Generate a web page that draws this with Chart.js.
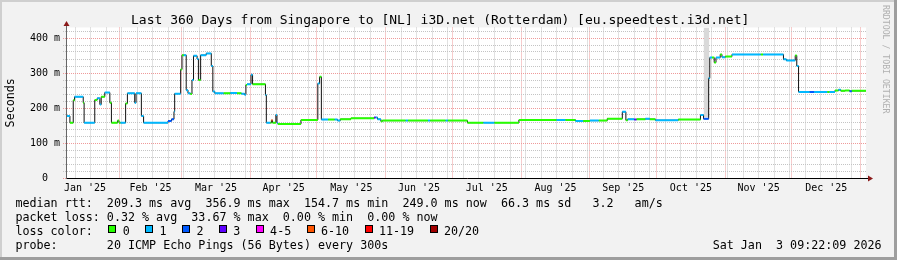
<!DOCTYPE html>
<html><head><meta charset="utf-8">
<script src="https://cdn.jsdelivr.net/npm/chart.js@4.4.1/dist/chart.umd.min.js"></script>
<style>
html,body{margin:0;padding:0;background:#f2f2f2;}
#wrap{position:relative;width:897px;height:260px;overflow:hidden;}
canvas{position:absolute;left:0;top:0;}
.t{position:absolute;font-family:"DejaVu Sans Mono",monospace;white-space:pre;color:#000;line-height:1;}
.box{position:absolute;width:8px;height:8px;box-sizing:border-box;border:1px solid #000;}
</style></head>
<body><div id="wrap">
<canvas id="c" width="897" height="260"></canvas>
<div class="t" style="left:131px;top:13.3px;font-size:13px">Last 360 Days from Singapore to [NL] i3D.net (Rotterdam) [eu.speedtest.i3d.net]</div>
<div class="t" style="left:15.4px;top:198.1px;font-size:11.7px">median rtt:  209.3 ms avg  356.9 ms max  154.7 ms min  249.0 ms now  66.3 ms sd   3.2   am/s</div>
<div class="t" style="left:15.4px;top:212.1px;font-size:11.7px">packet loss: 0.32 % avg  33.67 % max  0.00 % min  0.00 % now</div>
<div class="t" style="left:15.4px;top:226.1px;font-size:11.7px">loss color:</div>
<div class="t" style="left:15.4px;top:240.1px;font-size:11.7px">probe:       20 ICMP Echo Pings (56 Bytes) every 300s</div>
<div class="t" style="left:712.7px;top:240.1px;font-size:11.7px">Sat Jan  3 09:22:09 2026</div>
<div class="t" style="left:881px;top:5px;font-size:8.2px;line-height:10px;writing-mode:vertical-rl;color:#b0b0b0">RRDTOOL / TOBI OETIKER</div>
<div id="lossLegend"></div>
</div>
<script>
// ---- data ----
const lossColors = ['#26ff00','#00b8ff','#0059ff','#5e00ff','#ff00fe','#ff5500','#ff0000','#a10000'];
const lossLabels = ['0','1','2','3','4-5','6-10','11-19','20/20'];
const monthLabels = ["Jan '25","Feb '25","Mar '25","Apr '25","May '25","Jun '25","Jul '25","Aug '25","Sep '25","Oct '25","Nov '25","Dec '25"];
const monthStarts = [0,31,59,90,120,151,181,212,243,273,304,334,365]; // days since 2025-01-01
const yTickValues = [0,20,40,60,80,100,120,140,160,180,200,220,240,260,280,300,320,340,360,380,400,420];
const xMin = 7.39, xMax = 367.39, yMax = 430;
// median rtt steps: start day, value (ms), loss-colour index
const segStart = [7.4,8.7,10.2,10.8,14.7,15.1,19.9,21.0,22.2,22.8,24.4,26.7,27.4,30.2,30.8,31.5,33.8,34.6,37.9,38.5,
 40.9,41.9,52.9,54.5,55.6,55.9,58.6,59.2,60.0,61.1,61.9,63.0,63.7,64.4,66.0,66.6,67.6,70.1,72.4,73.1,
 74.0,78.0,81.0,84.0,86.0,87.4,88.0,88.5,90.3,91.0,96.8,97.2,99.0,99.5,100.0,101.5,102.0,102.4,112.8,120.4,
 121.2,122.0,125.0,128.0,129.3,130.5,135.3,145.8,146.5,147.3,148.8,149.5,160.0,161.0,170.0,171.0,178.0,179.0,187.8,189.0,
 195.0,200.0,211.0,228.0,232.0,236.5,240.0,243.0,247.0,250.8,257.6,259.2,260.0,263.0,264.0,268.0,270.0,272.5,282.8,292.8,
 294.2,296.5,297.0,298.0,299.0,299.8,301.7,302.5,304.0,307.0,320.0,321.0,330.2,331.5,335.5,336.2,337.0,342.0,344.0,350.0,
 351.0,353.4,355.0,356.0,358.0,360.0,361.0];
const segValue = [177,158,222,232,215,158,223,228,210,232,244,215,158,164,158,158,213,242,215,242,
 177,158,163,168,190,241,310,351,351,251,242,240,280,349,340,280,351,356,320,247,
 242,242,243,242,241,238,266,268,295,268,237,158,158,165,158,180,158,154,166,270,
 289,167,167,167,164,168,170.5,173,173,168,162,164,164,164,164,164,164,164,158,158,
 158,158,166,166,166,163,163,164,164,169.5,189,165,168,167,168,169,168,165,167,180,
 169,285,344,344,330,344,353,345,347,353,353,353,339,336,350,320,246,246,246,246,
 246,250,252,249,250,248,249];
const segLoss = [1,0,0,1,0,1,0,1,1,0,1,0,0,0,0,1,0,1,1,1,
 1,1,2,2,1,1,0,0,1,1,1,0,1,1,1,0,1,1,1,1,
 1,0,1,0,1,1,0,1,1,0,1,1,0,5,0,1,1,0,0,1,
 0,1,0,1,1,0,0,3,1,1,0,0,1,0,1,0,1,0,0,0,
 1,0,0,1,0,1,0,1,0,0,1,0,1,3,0,1,0,1,0,1,
 2,1,1,0,0,1,0,1,0,1,0,1,1,1,0,1,1,2,1,0,
 1,0,1,0,0,2,0];
// grey smoke band (Oct)
const smokeDays = [294.2, 296.8];
const smokeLow = [174, 174];

// ---- derived ----
const segEnd = segStart.slice(1).concat([xMax]);
const stepPts = segStart.map((s,i)=>({x:s,y:segValue[i]}));
stepPts.push({x:xMax,y:segValue[segValue.length-1]});
const colPts = [];
segStart.forEach((s,i)=>{colPts.push({x:s,y:segValue[i]},{x:segEnd[i],y:segValue[i]},{x:segEnd[i],y:null});});
const smokePts = smokeDays.map((d,i)=>({x:d,y:smokeLow[i]}));

const monthMid = new Map();
for(let i=0;i<12;i++){monthMid.set(monthStarts[i]+(monthStarts[i+1]-monthStarts[i])/2, monthLabels[i]);}
const monthStartSet = new Set(monthStarts);
const weekly = [];
for(let d=4; d<=xMax; d+=7){ if(d>=xMin) weekly.push(d); }
const weeklySet = new Set(weekly);
const xTickValues = [...new Set([...weekly, ...monthStarts.filter(v=>v>=xMin&&v<=xMax), ...monthMid.keys()])].sort((a,b)=>a-b);

const RED = '#ef9a9a', GRAY = '#c4c4c4';
const FONT = 'DejaVu Sans Mono';

// legend boxes
(function(){
  const host = document.getElementById('lossLegend');
  let cum = 0;
  lossLabels.forEach((lab,k)=>{
    const lx = 123.3 + 7.04*cum + 29.8*k;
    cum += lab.length;
    const b = document.createElement('div');
    b.className='box'; b.style.left=(lx-15).toFixed(1)+'px'; b.style.top='225px'; b.style.background=lossColors[k];
    host.appendChild(b);
    const t = document.createElement('div');
    t.className='t'; t.style.left=(lx-0.6).toFixed(1)+'px'; t.style.top='226.1px'; t.style.fontSize='11.7px';
    t.textContent = lab; host.appendChild(t);
  });
})();

const frame = {
  id:'frame',
  beforeDraw(chart){
    const c=chart.ctx, a=chart.chartArea, W=chart.width, H=chart.height;
    c.save();
    c.fillStyle='#f2f2f2'; c.fillRect(0,0,W,H);
    c.fillStyle='#cfcfcf'; c.fillRect(0,0,W,2); c.fillRect(0,0,2,H);
    c.fillStyle='#9e9e9e'; c.fillRect(0,H-3,W,3); c.fillRect(W-3,0,3,H);
    c.fillStyle='#ffffff'; c.fillRect(a.left,a.top,a.right-a.left,a.bottom-a.top);
    c.restore();
  },
  afterDraw(chart){
    const c=chart.ctx, a=chart.chartArea;
    c.save();
    c.strokeStyle='#000'; c.lineWidth=1;
    c.beginPath(); c.moveTo(a.left-1, a.bottom+0.5); c.lineTo(a.right+3, a.bottom+0.5); c.stroke();
    c.strokeStyle='#666';
    c.beginPath(); c.moveTo(a.left-0.5, a.bottom+1); c.lineTo(a.left-0.5, a.top-3); c.stroke();
    c.fillStyle='#8b1a1a';
    c.beginPath(); c.moveTo(a.right+2, a.bottom-2.5); c.lineTo(a.right+7, a.bottom+0.5); c.lineTo(a.right+2, a.bottom+3.5); c.closePath(); c.fill();
    c.beginPath(); c.moveTo(a.left-3.5, a.top-1.5); c.lineTo(a.left-0.5, a.top-6.5); c.lineTo(a.left+2.5, a.top-1.5); c.closePath(); c.fill();
    c.restore();
  }
};

new Chart(document.getElementById('c'), {
  type:'line',
  data:{datasets:[
    {data:colPts, borderWidth:2, borderColor:lossColors[0], borderCapStyle:'butt', spanGaps:false, pointRadius:0,
     segment:{borderColor:ctx=>lossColors[segLoss[Math.floor(ctx.p0DataIndex/3)]]}},
    {data:stepPts, borderWidth:1, borderColor:'#111', stepped:'before', pointRadius:0},
    {data:smokePts, borderWidth:0, borderColor:'rgba(0,0,0,0)', backgroundColor:'#d9d9d9', fill:{value:yMax}, pointRadius:0}
  ]},
  options:{
    responsive:false, animation:false, devicePixelRatio:1,
    layout:{padding:{top:27.5,right:31,left:0,bottom:0}},
    plugins:{legend:{display:false},tooltip:{enabled:false},title:{display:false}},
    scales:{
      x:{type:'linear', min:xMin, max:xMax,
        afterBuildTicks(s){ s.ticks = xTickValues.map(v=>({value:v})); },
        afterFit(s){ s.height=82; s.paddingLeft=0; s.paddingRight=0; },
        ticks:{autoSkip:false, maxRotation:0, minRotation:0, padding:2, color:'#000', font:{family:FONT,size:10},
          callback:(v)=> monthMid.has(v) ? monthMid.get(v) : ''},
        grid:{lineWidth:1, tickLength:2, tickBorderDash:[1,1],
          color:(c)=>{const v=c.tick&&c.tick.value; if(monthStartSet.has(v)) return RED; if(weeklySet.has(v)) return GRAY; return 'rgba(0,0,0,0)';}},
        border:{display:false, dash:[1,1]}
      },
      y:{type:'linear', min:0, max:yMax,
        afterBuildTicks(s){ s.ticks = yTickValues.map(v=>({value:v})); },
        afterFit(s){ s.width=67; s.paddingTop=0; s.paddingBottom=0; },
        ticks:{autoSkip:false, padding:3, color:'#000', font:{family:FONT,size:10},
          callback:(v)=> v===0 ? '0  ' : (v%100===0 ? v+' m' : '')},
        grid:{lineWidth:1, tickLength:4, tickBorderDash:[1,1],
          color:(c)=>{const v=c.tick&&c.tick.value; return (v%100===0)?RED:GRAY;}},
        border:{display:false, dash:[1,1]},
        title:{display:true, text:'Seconds', color:'#000', font:{family:FONT,size:11.7}, padding:{top:3.5,bottom:0}}
      }
    }
  },
  plugins:[frame]
});
</script>
</body></html>
